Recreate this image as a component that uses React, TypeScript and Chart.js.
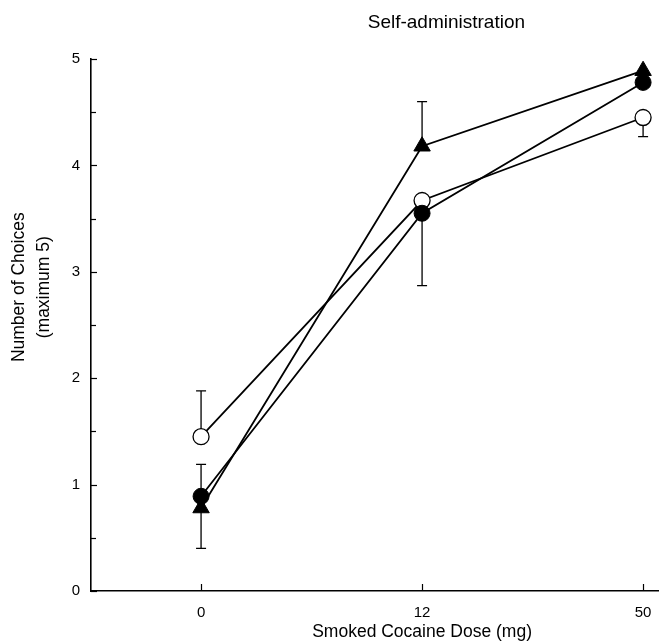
import React, { useEffect, useRef } from "react";
import { Chart, registerables } from "chart.js";

Chart.register(...registerables);

// ---- data ----
const doseLabels = ["0", "12", "50"];
const doseIndex = [0, 1, 2];
const yTicks = [0, 1, 2, 3, 4, 5];
const yMinorTicks = [0.5, 1.5, 2.5, 3.5, 4.5];

const openCircle = [1.45, 3.67, 4.45];
const openCircleErr = [0.43, 0, -0.18]; // + = bar drawn upward, - = downward

const filledCircle = [0.89, 3.55, 4.78];
const filledCircleErr = [0.3, -0.68, 0];

const filledTriangle = [0.78, 4.18, 4.89];
const filledTriangleErr = [-0.38, 0.42, 0];

const titleText = "Self-administration";
const xTitle = "Smoked Cocaine Dose (mg)";
const yTitle = ["Number of Choices", "(maximum 5)"];

const FONT = "'Liberation Sans', Arial, Helvetica, sans-serif";

const errors = [filledCircleErr, openCircleErr, filledTriangleErr];

const annotate = {
  id: "annotate",
  beforeDatasetsDraw(chart: any) {
    const ctx = chart.ctx;
    const xs = chart.scales.x;
    const ys = chart.scales.y;
    ctx.save();
    ctx.strokeStyle = "#000";
    ctx.lineWidth = 1.3;
    chart.data.datasets.forEach((ds: any, i: number) => {
      const err = errors[i];
      ds.data.forEach((pt: any, j: number) => {
        const e = err[j];
        if (!e) return;
        const x = xs.getPixelForValue(pt.x);
        const y0 = ys.getPixelForValue(pt.y);
        const y1 = ys.getPixelForValue(pt.y + e);
        ctx.beginPath();
        ctx.moveTo(x, y0);
        ctx.lineTo(x, y1);
        ctx.moveTo(x - 5, y1);
        ctx.lineTo(x + 5, y1);
        ctx.stroke();
      });
    });
    ctx.restore();
  },
  afterDraw(chart: any) {
    const ctx = chart.ctx;
    const xs = chart.scales.x;
    const ys = chart.scales.y;
    const area = chart.chartArea;
    ctx.save();
    ctx.strokeStyle = "#000";
    ctx.lineWidth = 1.2;
    // inward ticks on y
    yTicks.forEach((v) => {
      const y = Math.round(ys.getPixelForValue(v)) + 0.5;
      ctx.beginPath();
      ctx.moveTo(area.left, y);
      ctx.lineTo(area.left + 6, y);
      ctx.stroke();
    });
    yMinorTicks.forEach((v) => {
      const y = Math.round(ys.getPixelForValue(v)) + 0.5;
      ctx.beginPath();
      ctx.moveTo(area.left, y);
      ctx.lineTo(area.left + 5, y);
      ctx.stroke();
    });
    // inward ticks on x
    doseIndex.forEach((v) => {
      const x = Math.round(xs.getPixelForValue(v)) + 0.5;
      ctx.beginPath();
      ctx.moveTo(x, area.bottom);
      ctx.lineTo(x, area.bottom - 7);
      ctx.stroke();
    });

    ctx.fillStyle = "#000";
    ctx.textAlign = "center";
    ctx.textBaseline = "middle";
    // main title
    ctx.font = `19px ${FONT}`;
    ctx.fillText(titleText, xs.getPixelForValue(1.11), 23);
    // x title
    ctx.font = `17.5px ${FONT}`;
    ctx.fillText(xTitle, xs.getPixelForValue(1), 632);
    // y title
    const cy = area.top + (area.bottom - area.top) * 0.429;
    ctx.translate(0, cy);
    ctx.rotate(-Math.PI / 2);
    ctx.fillText(yTitle[0], 0, 19);
    ctx.fillText(yTitle[1], 0, 44);
    ctx.restore();
  },
};

export default function App() {
  const ref = useRef<HTMLCanvasElement>(null);
  useEffect(() => {
    if (!ref.current) return;
    const toPts = (arr: number[]) => arr.map((v, i) => ({ x: doseIndex[i], y: v }));
    const chart = new Chart(ref.current, {
      type: "line",
      data: {
        datasets: [
          {
            label: "filled circle",
            data: toPts(filledCircle),
            borderColor: "#000",
            backgroundColor: "#000",
            borderWidth: 1.8,
            pointStyle: "circle",
            pointRadius: 8,
            pointBorderWidth: 1,
            pointBackgroundColor: "#000",
            pointBorderColor: "#000",
            clip: false,
          },
          {
            label: "open circle",
            data: toPts(openCircle),
            borderColor: "#000",
            backgroundColor: "#fff",
            borderWidth: 1.8,
            pointStyle: "circle",
            pointRadius: 8,
            pointBorderWidth: 1.3,
            pointBackgroundColor: "#fff",
            pointBorderColor: "#000",
            clip: false,
          },
          {
            label: "filled triangle",
            data: toPts(filledTriangle),
            borderColor: "#000",
            backgroundColor: "#000",
            borderWidth: 1.8,
            pointStyle: "triangle",
            pointRadius: 9.5,
            pointBorderWidth: 1,
            pointBackgroundColor: "#000",
            pointBorderColor: "#000",
            clip: false,
          },
        ],
      },
      options: {
        responsive: false,
        animation: false,
        layout: { autoPadding: false, padding: { top: 59, right: 0, left: 0, bottom: 0 } },
        plugins: {
          legend: { display: false },
          tooltip: { enabled: false },
          title: { display: false },
        },
        scales: {
          x: {
            type: "linear",
            min: -0.498,
            max: 2.072,
            afterBuildTicks: (s: any) => {
              s.ticks = doseIndex.map((v) => ({ value: v }));
            },
            afterFit: (s: any) => {
              s.height = 50;
              s.paddingLeft = 0;
              s.paddingRight = 0;
            },
            grid: { display: false, drawTicks: false },
            border: { display: true, color: "#000", width: 1.6 },
            ticks: {
              padding: 13,
              maxRotation: 0,
              autoSkip: false,
              color: "#000",
              font: { family: FONT, size: 15 },
              callback: (v: any) => doseLabels[doseIndex.indexOf(Number(v))] ?? "",
            },
          },
          y: {
            type: "linear",
            min: 0,
            max: 5,
            afterBuildTicks: (s: any) => {
              s.ticks = yTicks.map((v) => ({ value: v }));
            },
            afterFit: (s: any) => {
              s.width = 91;
            },
            grid: { display: false, drawTicks: false },
            border: { display: true, color: "#000", width: 1.6 },
            ticks: {
              padding: 11,
              color: "#000",
              font: { family: FONT, size: 15 },
            },
          },
        },
      },
      plugins: [annotate],
    });
    return () => chart.destroy();
  }, []);
  return (
    <div style={{ position: "fixed", left: 0, top: 0, width: 659, height: 641, background: "#fff" }}>
      <canvas ref={ref} width={659} height={641} />
    </div>
  );
}
